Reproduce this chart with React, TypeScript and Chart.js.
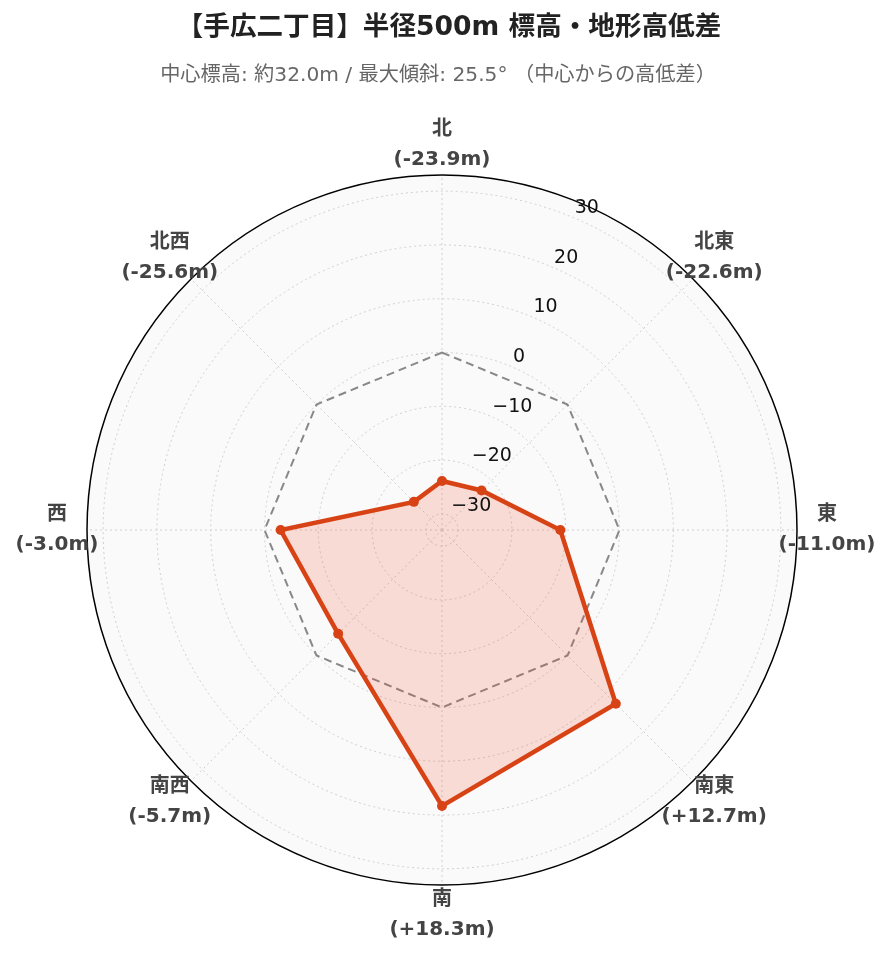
import React, { useEffect, useRef } from "react";
import { Chart, registerables } from "chart.js";

Chart.register(...registerables);

const DIRECTIONS = ["北", "北東", "東", "南東", "南", "南西", "西", "北西"];
const ELEVATION_DIFF = [-23.9, -22.6, -11.0, 12.7, 18.3, -5.7, -3.0, -25.6];
const REFERENCE = [0, 0, 0, 0, 0, 0, 0, 0];
const TICK_VALUES = [-30, -20, -10, 0, 10, 20, 30];
const R_MIN = -33;
const R_MAX = 33;
const TITLE = "【手広二丁目】半径500m 標高・地形高低差";
const SUBTITLE = "中心標高: 約32.0m / 最大傾斜: 25.5° （中心からの高低差）";

const fmtDiff = (v: number) => "(" + (v > 0 ? "+" : "") + v.toFixed(1) + "m)";
const fmtTick = (v: number) => (v < 0 ? "\u2212" + Math.abs(v) : String(v));

const decorPlugin = {
  id: "decor",
  beforeDraw(chart: any) {
    const s = chart.scales.r;
    const ctx = chart.ctx;
    ctx.save();
    ctx.fillStyle = "#fafafa";
    ctx.beginPath();
    ctx.arc(s.xCenter, s.yCenter, s.drawingArea, 0, Math.PI * 2);
    ctx.fill();
    ctx.restore();
  },
  afterDraw(chart: any) {
    const s = chart.scales.r;
    const ctx = chart.ctx;
    ctx.save();
    // titles
    ctx.textAlign = "center";
    ctx.textBaseline = "middle";
    ctx.fillStyle = "#222";
    ctx.font = "bold 26.6px 'DejaVu Sans', 'Noto Sans CJK JP', sans-serif";
    ctx.fillText(TITLE, 449, 28);
    ctx.fillStyle = "#666";
    ctx.font = "20.2px 'DejaVu Sans', 'Noto Sans CJK JP', sans-serif";
    ctx.fillText(SUBTITLE, 438, 76);

    // radial tick labels along 22.5°
    const a = (22.5 * Math.PI) / 180;
    ctx.textAlign = "left";
    ctx.fillStyle = "#111";
    ctx.font = "19px 'DejaVu Sans', sans-serif";
    TICK_VALUES.forEach((v) => {
      const d = s.getDistanceFromCenterForValue(v);
      const x = s.xCenter + d * Math.sin(a) + 3;
      const y = s.yCenter - d * Math.cos(a) - 9;
      ctx.fillText(fmtTick(v), x, y);
    });

    // point labels
    ctx.textAlign = "center";
    ctx.fillStyle = "#444";
    ctx.font = "bold 20px 'DejaVu Sans', 'Noto Sans CJK JP', sans-serif";
    DIRECTIONS.forEach((name, i) => {
      const p = s.getPointPosition(i, s.drawingArea + 30);
      ctx.fillText(name, p.x, p.y - 15);
      ctx.fillText(fmtDiff(ELEVATION_DIFF[i]), p.x, p.y + 15);
    });
    ctx.restore();
  },
};

export default function App() {
  const ref = useRef<HTMLCanvasElement>(null);
  useEffect(() => {
    if (!ref.current) return;
    const chart = new Chart(ref.current, {
      type: "radar",
      data: {
        labels: DIRECTIONS,
        datasets: [
          {
            label: "高低差",
            data: ELEVATION_DIFF,
            borderColor: "#d84315",
            backgroundColor: "rgba(245,80,45,0.18)",
            borderWidth: 4.5,
            fill: "start",
            pointRadius: 5,
            pointBackgroundColor: "#d84315",
            pointBorderColor: "#d84315",
            pointBorderWidth: 0,
            order: 0,
          },
          {
            label: "基準",
            data: REFERENCE,
            borderColor: "#888888",
            borderWidth: 2,
            borderDash: [8, 5],
            fill: false,
            pointRadius: 0,
            order: 1,
          },
        ],
      },
      options: {
        responsive: false,
        animation: false,
        layout: { padding: { left: 87, right: 95, top: 175, bottom: 77 } },
        elements: { line: { tension: 0 } },
        plugins: { legend: { display: false }, tooltip: { enabled: false }, title: { display: false } },
        scales: {
          r: {
            min: R_MIN,
            max: R_MAX,
            afterBuildTicks: (axis: any) => {
              axis.ticks = [R_MIN, ...TICK_VALUES, R_MAX].map((v) => ({ value: v }));
            },
            ticks: { display: false },
            pointLabels: { display: false },
            grid: {
              circular: true,
              color: (c: any) => (c.tick && c.tick.value === R_MAX ? "#000" : "#d0d0d0"),
              lineWidth: (c: any) => (c.tick && c.tick.value === R_MAX ? 1.5 : 1),
            },
            border: {
              dash: (c: any) => (c.tick && c.tick.value === R_MAX ? [] : [2, 3]),
            },
            angleLines: { color: "#d0d0d0", lineWidth: 1, borderDash: [2, 3] },
          },
        },
      },
      plugins: [decorPlugin],
    } as any);
    return () => chart.destroy();
  }, []);
  return (
    <div style={{ position: "absolute", left: 0, top: 0, width: 892, height: 962 }}>
      <canvas ref={ref} width={892} height={962} />
    </div>
  );
}
